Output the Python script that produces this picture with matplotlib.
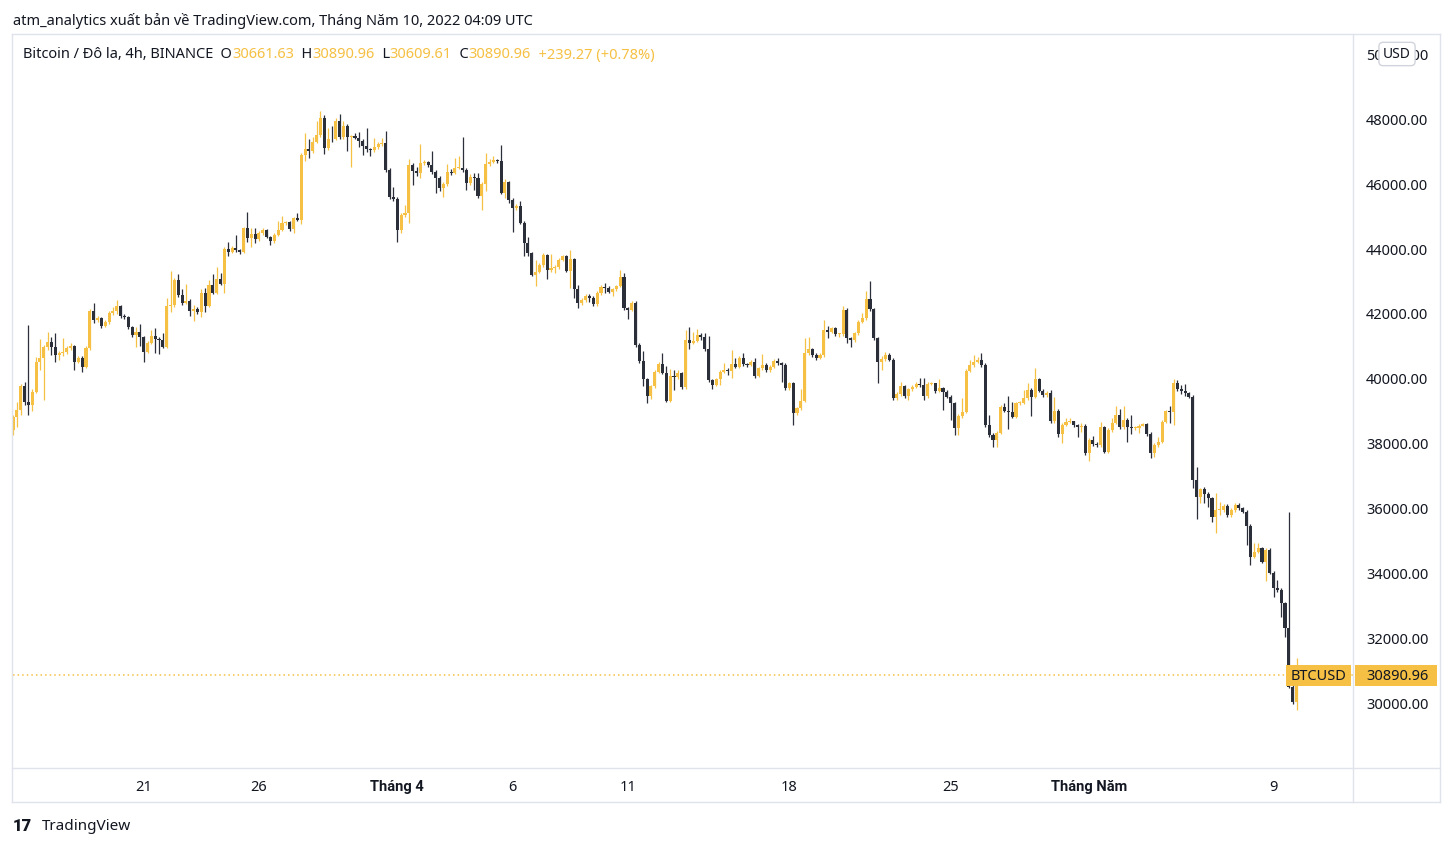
import numpy as np
import matplotlib.pyplot as plt
from matplotlib.patches import Rectangle
from matplotlib.lines import Line2D
from matplotlib.transforms import blended_transform_factory

plt.rcParams['font.family'] = ['Noto Sans', 'DejaVu Sans']

# 4h candles, BINANCE BTCUSD, first candle 15 Mar 08:00 UTC
first_open = 38430
closes = [
    38840, 39044, 39783, 39300, 39200, 39610, 40530, 40640, 40990, 41150,
    40990, 40740, 40800, 40840, 40940, 41000, 40530, 40640, 40380, 40940,
    42090, 41820, 41870, 41630, 41760, 42020, 42100, 42260, 41940, 41920,
    41610, 41350, 41440, 41300, 40840, 41120, 41320, 41220, 41200, 40990,
    42250, 42280, 43050, 42580, 42330, 42400, 42100, 42160, 42070, 42660,
    42250, 42890, 42660, 43080, 42920, 44000, 43920, 44020, 43970, 43920,
    44640, 44330, 44450, 44310, 44480, 44590, 44380, 44250, 44430, 44580,
    44790, 44820, 44620, 44940, 44900, 46890, 47070, 47020, 47300, 47510,
    48020, 47120, 47400, 47370, 47940, 47460, 47800, 47460, 47470, 47430,
    47330, 47170, 47070, 47050, 47130, 47230, 47250, 46430, 45610, 45540,
    44580, 45050, 45100, 46580, 46410, 46350, 46640, 46680, 46580, 46360,
    46200, 45870, 46000, 46380, 46330, 46480, 46500, 46430, 46020, 46230,
    46200, 45630, 46000, 46620, 46690, 46740, 46700, 45730, 46070, 45510,
    45250, 45320, 44810, 44170, 43870, 43200, 43300, 43510, 43820, 43350,
    43430, 43460, 43660, 43780, 43330, 43680, 42760, 42330, 42430, 42550,
    42500, 42300, 42640, 42840, 42810, 42690, 42760, 42860, 43150, 42170,
    42120, 42350, 41050, 40560, 39990, 39480, 39780, 40220, 40460, 40190,
    39330, 40090, 40050, 40170, 39740, 41200, 41120, 41180, 41350, 41280,
    40910, 39970, 39820, 39990, 40230, 40280, 40250, 40460, 40380, 40660,
    40450, 40430, 40530, 40090, 40330, 40430, 40280, 40380, 40560, 40480,
    40430, 39710, 39870, 38940, 39100, 39330, 40790, 40910, 40740, 40640,
    40740, 41510, 41460, 41560, 41380, 41380, 42120, 41250, 41200, 41410,
    41760, 41870, 42450, 42140, 41250, 40530, 40600, 40740, 40590, 39400,
    39540, 39780, 39480, 39680, 39760, 39850, 39800, 39480, 39850, 39870,
    39640, 39710, 39610, 39460, 39250, 38480, 38860, 38990, 40260, 40430,
    40530, 40580, 40430, 38580, 38280, 38120, 38350, 39150, 39030, 38990,
    38840, 39250, 39270, 39410, 39660, 39460, 39990, 39640, 39510, 39580,
    38710, 39030, 38310, 38580, 38690, 38700, 38580, 38510, 38560, 37710,
    38120, 38000, 37970, 38530, 37760, 38430, 38660, 38890, 38510, 38740,
    38530, 38480, 38480, 38550, 38600, 38310, 37710, 37970, 38070, 38690,
    39000, 38970, 39890, 39680, 39640, 39560, 39460, 36890, 36380, 36600,
    36460, 36330, 35760, 35970, 35970, 36090, 35810, 35970, 36120, 36020,
    35920, 35480, 34530, 34690, 34790, 34380, 34740, 34040, 33560, 33510,
    33100, 32330, 30530, 30070, 30661.63, 30890.96,
]
highs = [
    38900, 39300, 39845, 39900, 41660, 39680, 40690, 41220, 41050, 41460,
    41300, 41430, 40860, 41250, 41000, 41100, 41050, 40700, 40700, 41000,
    42150, 42350, 41950, 41900, 41820, 42080, 42200, 42430, 42280, 42000,
    41950, 41640, 41600, 41700, 41330, 41160, 41510, 41560, 41300, 41400,
    42480, 43330, 43120, 43230, 42760, 42920, 42450, 42270, 42200, 42760,
    42800, 43050, 43230, 43460, 43250, 44050, 44230, 44100, 44430, 44000,
    44690, 45150, 44640, 44640, 44560, 44640, 44620, 44400, 44480, 44860,
    45010, 44850, 44860, 44990, 45100, 46950, 47560, 47370, 47460, 47940,
    48250, 48120, 47730, 47800, 48040, 48140, 47950, 47850, 47520, 47560,
    47600, 47380, 47710, 47120, 47410, 47290, 47410, 47640, 46480, 45920,
    45600, 45100, 45350, 46760, 46650, 46530, 47230, 46750, 46720, 47030,
    46420, 46250, 46060, 46620, 46450, 46790, 46860, 47440, 46480, 46300,
    46330, 46350, 46060, 46940, 46760, 46860, 46780, 47200, 46150, 46100,
    45560, 45400, 45490, 44860, 44360, 43900, 43660, 43560, 43870, 43850,
    43850, 43520, 43720, 43830, 43820, 43970, 43720, 42890, 42480, 42600,
    42630, 42560, 42700, 42890, 42960, 42850, 42800, 42900, 43350, 43270,
    42220, 42400, 42400, 41100, 40870, 40040, 39830, 40270, 40520, 40790,
    40400, 40300, 40270, 40270, 40230, 41510, 41610, 41450, 41530, 41400,
    41430, 41320, 40010, 40040, 40280, 40480, 40330, 40890, 40640, 40700,
    40810, 40500, 40580, 40640, 40380, 40760, 40480, 40420, 40600, 40640,
    40530, 40480, 39920, 39900, 39150, 39680, 41250, 41300, 40960, 40790,
    40790, 41820, 41630, 41610, 41600, 41430, 42250, 42170, 41300, 41460,
    41810, 42040, 42720, 43000, 42190, 41300, 40700, 40840, 40790, 40640,
    39590, 39920, 39830, 39730, 39810, 39900, 40020, 40020, 39900, 39920,
    39890, 39990, 39760, 39660, 39500, 39300, 38910, 39400, 40310, 40580,
    40740, 40690, 40810, 40480, 38890, 38330, 38400, 39200, 39250, 39480,
    39300, 39300, 39320, 39660, 39870, 39710, 40330, 40040, 39690, 39630,
    39660, 39460, 39080, 38640, 38790, 38790, 38720, 38620, 38660, 38600,
    38170, 38250, 38050, 38690, 38550, 38480, 38790, 39170, 39070, 39170,
    38790, 38890, 38540, 38600, 38640, 38660, 38360, 38020, 38220, 38740,
    39050, 39170, 39990, 39970, 39810, 39850, 39610, 39510, 37300, 36650,
    36670, 36510, 36380, 36500, 36220, 36150, 36140, 36020, 36190, 36170,
    36070, 35970, 35530, 34940, 34960, 34840, 34790, 34790, 34090, 33810,
    33560, 33150, 35920, 30600, 31400, 30890.96,
]
lows = [
    38280, 38530, 38900, 39200, 38890, 39000, 39560, 40280, 39350, 40900,
    40740, 40530, 40580, 40700, 40780, 40900, 40280, 40480, 40220, 40330,
    40900, 41710, 41750, 41580, 41600, 41700, 41980, 42000, 41880, 41850,
    41550, 41300, 40990, 41010, 40530, 40800, 41080, 40810, 40770, 40950,
    40960, 42070, 42200, 42520, 42280, 42300, 41940, 41790, 42000, 41920,
    42070, 42200, 42600, 42600, 42880, 42660, 43780, 43880, 43900, 43850,
    43880, 44220, 44070, 44170, 44250, 44420, 44330, 44120, 44200, 44400,
    44540, 44750, 44560, 44480, 44850, 44760, 46700, 46810, 46950, 47250,
    47450, 46910, 47050, 47300, 47350, 47400, 47400, 47020, 46530, 47380,
    47150, 46890, 47000, 46860, 47000, 47080, 47180, 46380, 45550, 45480,
    44220, 44500, 45000, 44790, 45970, 46250, 46170, 46580, 46520, 46300,
    45710, 45800, 45610, 45950, 46280, 46300, 46450, 46380, 45820, 45980,
    45820, 45580, 45200, 45770, 46550, 46640, 46640, 45680, 45560, 45420,
    44530, 45200, 44760, 43780, 43800, 43170, 42860, 43250, 43450, 43070,
    43300, 43250, 43400, 43620, 43280, 42790, 42480, 42170, 42280, 42380,
    42380, 42250, 42250, 42590, 42660, 42640, 42550, 42700, 42820, 42120,
    41840, 42080, 40990, 40500, 39780, 39250, 39370, 39730, 40180, 40140,
    39280, 39300, 39660, 40000, 39690, 39700, 40910, 41080, 41130, 41200,
    40870, 39900, 39680, 39780, 39820, 40180, 40120, 40020, 40330, 40340,
    40400, 40380, 40390, 40040, 40050, 40280, 40230, 40230, 40340, 40430,
    39920, 39660, 39660, 38580, 38880, 39050, 39280, 40740, 40690, 40590,
    40600, 40690, 41250, 41410, 41330, 41300, 41330, 41120, 40970, 41150,
    41360, 41720, 41820, 42090, 41200, 39870, 40280, 40550, 40540, 39350,
    39350, 39490, 39430, 39350, 39630, 39710, 39750, 39350, 39430, 39800,
    39560, 39600, 39050, 39410, 38740, 38280, 38280, 38810, 38940, 40210,
    40380, 40480, 40380, 38530, 38230, 37900, 37920, 38300, 38980, 38450,
    38790, 38790, 39200, 39220, 39360, 38860, 39410, 39590, 39460, 39460,
    38660, 38660, 38200, 38040, 38540, 38650, 38530, 38220, 38380, 37660,
    37490, 37950, 37920, 37920, 37710, 37710, 38380, 38610, 38460, 38460,
    38070, 38310, 38430, 38350, 38550, 38260, 37560, 37610, 37920, 38020,
    38650, 38640, 38580, 39630, 39540, 39480, 39400, 36640, 35680, 36190,
    36170, 36070, 35610, 35250, 35810, 35910, 35760, 35760, 35920, 35970,
    35870, 34890, 34280, 34480, 34640, 34330, 33790, 33990, 33300, 33460,
    32690, 32070, 30480, 29990, 29810, 30609.61,
]
tick_pos = [34, 64, 100, 130, 160, 202, 244, 280, 328]
tick_labels = ['21', '26', 'Tháng 4', '6', '11', '18', '25', 'Tháng Năm', '9']
price_ticks = list(range(30000, 50001, 2000))
last_price = 30890.96

up_col = '#F5C043'
dn_col = '#2B2F3A'
txt_col = '#131722'
line_col = '#E0E3EB'

W, H = 1453, 847
fig = plt.figure(figsize=(W / 100, H / 100), dpi=100)
fig.patch.set_facecolor('white')


def fx(px):
    return px / W


def fy(py):
    return 1 - py / H


ax = fig.add_axes([fx(13), fy(768), (1353 - 13) / W, (768 - 35) / H])

c = np.array(closes)
o = np.array([first_open] + closes[:-1])
hi = np.array(highs)
lo = np.array(lows)
x = np.arange(len(c))
cols = np.where(c >= o, up_col, dn_col)

ax.vlines(x, lo, hi, colors=cols, linewidth=0.9, zorder=2)
body_h = np.maximum(np.abs(c - o), 30)
ax.bar(x, body_h, bottom=np.minimum(o, c), width=0.8, color=cols,
       linewidth=0, zorder=3)

ax.axhline(last_price, color=up_col, linestyle=(0, (1, 2)), linewidth=1.1, zorder=1)

ax.set_xlim(0, (1353 - 13) / 3.843)
ax.set_ylim(28030, 50585)
for s in ax.spines.values():
    s.set_visible(False)

ax.yaxis.tick_right()
ax.set_yticks(price_ticks)
ax.set_yticklabels([f'{v:.2f}' for v in price_ticks])
ax.tick_params(axis='y', length=0, pad=9.4, labelsize=10.5, labelcolor=txt_col)

# time axis labels drawn as texts so the month names can be bold
ax.set_xticks([])
trx = blended_transform_factory(ax.transData, ax.transAxes)
for p, lab in zip(tick_pos, tick_labels):
    bold = lab.startswith('Tháng')
    ax.text(p, -19 / 733, lab, transform=trx, ha='center', va='center', fontsize=10.5,
            color=txt_col, fontweight='bold' if bold else 'normal',
            family=['Roboto', 'DejaVu Sans'] if bold else ['Noto Sans', 'DejaVu Sans'],
            clip_on=False)

# last price labels
tr = blended_transform_factory(ax.transAxes, ax.transData)
ppx = (50585 - 28030) / (768 - 35)
ax.add_patch(Rectangle((1 - 67 / 1340, last_price - 10.5 * ppx), 65 / 1340, 21 * ppx,
                       transform=tr, facecolor=up_col, edgecolor='none',
                       clip_on=False, zorder=5))
ax.text(1 - 34.5 / 1340, last_price - 1.5 * ppx, 'BTCUSD', transform=tr, ha='center',
        va='center', fontsize=10.5, color=txt_col, zorder=6, clip_on=False)
ax.add_patch(Rectangle((1 + 2 / 1340, last_price - 10.5 * ppx), 82 / 1340, 21 * ppx,
                       transform=tr, facecolor=up_col, edgecolor='none',
                       clip_on=False, zorder=5))
ax.text(1 + 13 / 1340, last_price - 1.5 * ppx, f'{last_price:.2f}', transform=tr, ha='left',
        va='center', fontsize=10.5, color=txt_col, zorder=6, clip_on=False)

# frame lines
for (x0, y0, x1, y1) in [(12, 34, 1440, 34), (12, 802, 1440, 802), (12, 34, 12, 802),
                         (1440, 34, 1440, 802), (12, 768, 1440, 768), (1353, 34, 1353, 802)]:
    fig.add_artist(Line2D([fx(x0), fx(x1)], [fy(y0), fy(y1)], color=line_col,
                          linewidth=1, transform=fig.transFigure))

fig.text(fx(1397), fy(54), 'USD', ha='center', va='center', fontsize=10, color=txt_col,
         bbox=dict(boxstyle='round,pad=0.3', fc='white', ec='#D1D4DC', lw=1), zorder=10)

fig.text(fx(13), fy(21), 'atm_analytics xuất bản về TradingView.com, Tháng Năm 10, 2022 04:09 UTC',
         ha='left', va='center', fontsize=10.5, color=txt_col)

t = fig.text(fx(23), fy(55), 'Bitcoin / Đô la, 4h, BINANCE', ha='left', va='center',
             fontsize=10.5, color=txt_col)
parts = [('  O', txt_col), ('30661.63', up_col), ('  H', txt_col), ('30890.96', up_col),
         ('  L', txt_col), ('30609.61', up_col), ('  C', txt_col), ('30890.96', up_col),
         ('  +239.27 (+0.78%)', up_col)]
for s, col in parts:
    t = ax.annotate(s, xy=(1, 0), xycoords=t, ha='left', va='bottom', fontsize=10.5,
                    color=col, annotation_clip=False)

fig.text(fx(13), fy(826), '17', ha='left', va='center', fontsize=12, fontweight='heavy',
         family=['Roboto', 'DejaVu Sans'], color=txt_col)
fig.text(fx(42), fy(826), 'TradingView', ha='left', va='center', fontsize=11, color=txt_col)

fig.savefig('out.png', dpi=100, facecolor='white')
